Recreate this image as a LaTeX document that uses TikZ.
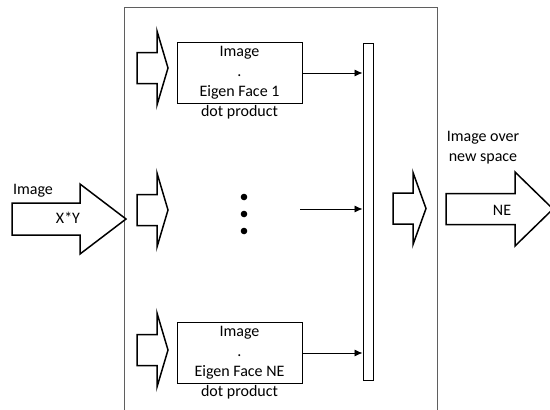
\documentclass[tikz,border=0pt]{standalone}
\usepackage{fontspec}
\setmainfont{Carlito}
\usepackage{tikz}
\usetikzlibrary{calc,positioning,arrows.meta}
\definecolor{framegray}{RGB}{95,95,95}

% block arrow: #1 tail x, #2 head x, #3 tip x, #4 centre y, #5 body half, #6 head half
\newcommand{\blockarrow}[6]{%
 \draw[blockline] (#1,#4-#5) -- (#2,#4-#5) -- (#2,#4-#6) -- (#3,#4)
  -- (#2,#4+#6) -- (#2,#4+#5) -- (#1,#4+#5) -- cycle;}

\begin{document}
\begin{tikzpicture}[x=1bp, y=-1bp,
  font=\fontsize{16bp}{20bp}\selectfont,
  blockline/.style={line width=1.5bp, line join=miter, fill=white},
  dotbox/.style={draw, line width=1bp, minimum width=125bp,
   minimum height=61bp, inner sep=0pt, align=center},
  barbox/.style={draw, line width=1bp, minimum width=10bp,
   minimum height=337bp, inner sep=0pt},
  conn/.style={line width=0.8bp, -{Latex[length=8bp,width=7bp]}},
  plain/.style={inner sep=1bp, align=center}]
\useasboundingbox (0,0) rectangle (550,409);
% outer frame, open at the bottom
\draw[framegray, line width=1bp] (124.5,415) -- (124.5,7) -- (437,7) -- (437,415);
% input arrow
\blockarrow{12}{80}{126}{219}{16}{35}
\node[plain] (inlab) at (33,191) {Image};
\node[plain] (insize) at (68,218) {X*Y};
% small arrows into each branch
\blockarrow{137}{157}{168}{68}{15.5}{37}
\blockarrow{137}{157}{168}{210}{15.5}{37}
\blockarrow{137}{157}{168}{350}{15.5}{37}
% dot product boxes
\node[dotbox] (p1) at (239.5,73) {Image\\.\\Eigen Face 1};
\node[plain, below=0bp of p1] (p1lab) {dot product};
\node[dotbox] (pn) at (239.5,353) {Image\\.\\Eigen Face NE};
\node[plain, below=0bp of pn] (pnlab) {dot product};
% ellipsis
\foreach \yy in {197,214,231}
 \fill (244,\yy) circle (3.3bp);
% collecting bar
\node[barbox] (bar) at (368,211.5) {};
\coordinate (mid) at (300,209);
\draw[conn] (p1.east) -- (p1.east -| bar.west);
\draw[conn] (mid) -- (mid -| bar.west);
\draw[conn] (pn.east) -- (pn.east -| bar.west);
% output arrows
\blockarrow{393}{413}{426}{208.5}{15.5}{36}
\blockarrow{446}{515}{553}{209}{15.5}{37}
\node[plain] (outlab) at (483,148) {Image over\\new space};
\node[plain] (outsize) at (502,210) {NE};
\end{tikzpicture}
\end{document}
